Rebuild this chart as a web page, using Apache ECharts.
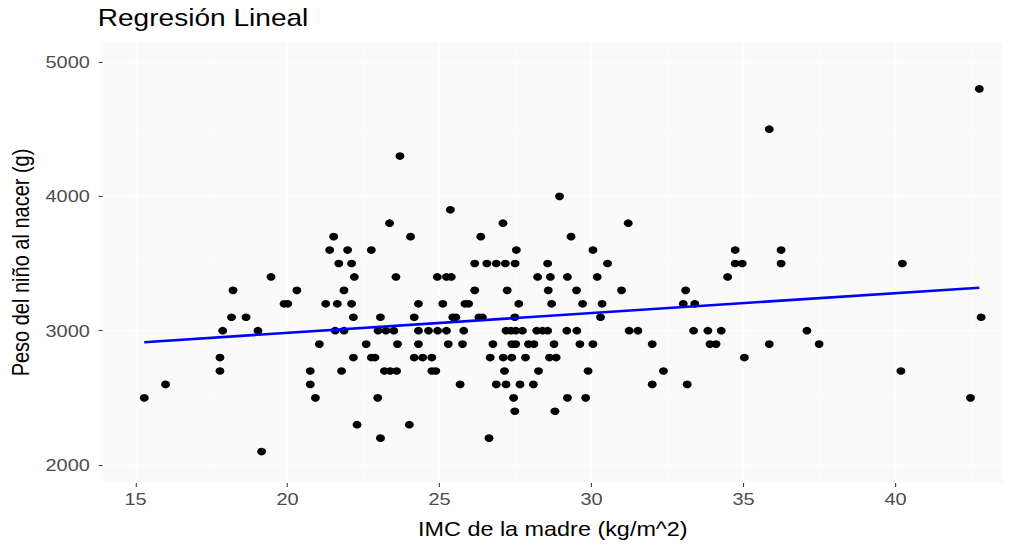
<!DOCTYPE html>
<html>
<head>
<meta charset="utf-8">
<title>Regresión Lineal</title>
<script src="https://cdn.jsdelivr.net/npm/echarts@6/dist/echarts.min.js"></script>
<style>
  html, body { margin: 0; padding: 0; background: #ffffff; overflow: hidden; }
  #wrap { width: 1017px; height: 546px; overflow: hidden; }
  /* the chart is laid out narrower and stretched horizontally */
  #chart { width: 869px; height: 546px; transform: scaleX(1.17); transform-origin: 0 0; }
</style>
</head>
<body>
<div id="wrap"><div id="chart"></div></div>
<script>
// IMC de la madre (kg/m^2) and peso del niño al nacer (g), one entry per birth
const bmi = [
  15.29, 15.99, 17.78, 17.78, 17.87, 18.16, 18.21, 18.64, 19.03, 19.15,
  19.46, 19.89, 20.01, 20.31, 20.75, 20.75, 20.92, 21.05, 21.26, 21.39,
  21.52, 21.57, 21.64, 21.69, 21.78, 21.86, 21.86, 21.98, 22.11, 22.11,
  22.17, 22.17, 22.20, 22.29, 22.59, 22.76, 22.76, 22.88, 22.97, 22.98,
  23.06, 23.06, 23.19, 23.24, 23.36, 23.38, 23.50, 23.57, 23.59, 23.62,
  23.70, 24.01, 24.05, 24.17, 24.17, 24.31, 24.31, 24.31, 24.45, 24.64,
  24.75, 24.75, 24.88, 24.93, 24.94, 25.11, 25.23, 25.23, 25.29, 25.39,
  25.36, 25.44, 25.54, 25.68, 25.76, 25.80, 25.84, 25.96, 26.16, 26.16,
  26.30, 26.36, 26.41, 26.56, 26.63, 26.67, 26.76, 26.87, 26.87, 27.09,
  27.10, 27.14, 27.17, 27.19, 27.19, 27.23, 27.35, 27.38, 27.38, 27.44,
  27.48, 27.48, 27.49, 27.51, 27.51, 27.53, 27.61, 27.65, 27.73, 27.83,
  27.93, 28.09, 28.11, 28.20, 28.23, 28.26, 28.39, 28.56, 28.56, 28.58,
  28.62, 28.65, 28.69, 28.77, 28.80, 28.84, 28.95, 29.19, 29.21, 29.21,
  29.33, 29.51, 29.52, 29.62, 29.71, 29.81, 29.89, 30.05, 30.05, 30.19,
  30.30, 30.35, 30.53, 30.99, 31.21, 31.24, 31.53, 32.00, 32.00, 32.37,
  33.02, 33.10, 33.15, 33.36, 33.40, 33.83, 33.90, 34.10, 34.27, 34.48,
  34.73, 34.73, 34.96, 35.03, 35.85, 35.85, 36.24, 36.24, 37.09, 37.49,
  40.18, 40.23, 42.47, 42.76, 42.82
];
const birthWeight = [
  2500, 2600, 2700, 2800, 3000, 3100, 3300, 3100, 3000, 2100,
  3400, 3200, 3200, 3300, 2700, 2600, 2500, 2900, 3200, 3600,
  3700, 3000, 3200, 3500, 2700, 3300, 3000, 3600, 3200, 3500,
  3100, 2800, 3400, 2300, 2900, 3600, 2800, 2800, 2500, 3000,
  3100, 2200, 2700, 3000, 3800, 2700, 3000, 3400, 2700, 2900,
  4300, 2300, 3700, 3100, 2800, 3200, 3000, 2900, 2800, 3000,
  2800, 2700, 2700, 3400, 3000, 3200, 3400, 3000, 2900, 3400,
  3900, 3100, 3100, 2600, 2900, 3000, 3200, 3200, 3500, 3300,
  3100, 3700, 3100, 3500, 2200, 2800, 2900, 3500, 2600, 3800,
  2800, 2700, 3500, 3000, 2600, 3300, 3000, 2900, 2800, 2500,
  3100, 2400, 3500, 3000, 2900, 3600, 3200, 2600, 3000, 2800,
  2900, 2600, 2900, 3000, 3400, 2700, 3000, 3000, 3500, 3300,
  2800, 3400, 3200, 2900, 2400, 2800, 4000, 3000, 3400, 2500,
  3700, 3300, 3000, 2900, 3200, 2500, 2700, 3600, 2900, 3400,
  3100, 3200, 3500, 3300, 3800, 3000, 3000, 2900, 2600, 2700,
  3200, 3300, 2600, 3000, 3200, 3000, 2900, 2900, 3000, 3400,
  3600, 3500, 3500, 2800, 4500, 2900, 3600, 3500, 3000, 2900,
  2700, 3500, 2500, 4800, 3100
];

// fitted line, drawn between its two ends
const fitX = [15.29, 42.76];
const fitY = [2914, 3320];

// axis breaks
const xTicks = [15, 20, 25, 30, 35, 40];
const xMinorTicks = [17.5, 22.5, 27.5, 32.5, 37.5, 42.5];
const yTicks = [2000, 3000, 4000, 5000];
const yMinorTicks = [2500, 3500, 4500];

const points = bmi.map((v, i) => [v, birthWeight[i]]);
const fitLine = fitX.map((v, i) => [v, fitY[i]]);

const FONT = '"Liberation Sans", Arial, Helvetica, sans-serif';
const X_MIN = 13.92, X_MAX = 43.54, Y_MIN = 1866, Y_MAX = 5149;

const chart = echarts.init(document.getElementById('chart'), null, { renderer: 'svg' });

const gridLine = { show: true, lineStyle: { color: '#ffffff', width: 1.2 } };
const minorGridLine = { show: true, lineStyle: { color: '#ffffff', width: 0.6 } };

chart.setOption({
  animation: false,
  backgroundColor: '#ffffff',
  textStyle: { fontFamily: FONT },
  title: {
    text: 'Regresión Lineal',
    left: 83.5,
    top: 6,
    padding: 0,
    textStyle: { fontFamily: FONT, fontSize: 24, fontWeight: 'normal', color: '#000000' }
  },
  grid: {
    left: 86.3, right: 11.7, top: 42, bottom: 63,
    show: true, backgroundColor: '#FAFAFA', borderWidth: 0
  },
  xAxis: [
    {
      type: 'value', min: X_MIN, max: X_MAX,
      name: 'IMC de la madre (kg/m^2)',
      nameLocation: 'middle', nameGap: 36,
      nameTextStyle: { fontFamily: FONT, fontSize: 20, color: '#000000' },
      axisLine: { show: false },
      axisTick: { show: true, length: 4, customValues: xTicks, lineStyle: { color: '#333333', width: 0.9 } },
      axisLabel: { customValues: xTicks, margin: 8, fontSize: 17, color: '#4D4D4D', fontFamily: FONT,
                   formatter: v => String(v) },
      splitLine: gridLine
    },
    {
      type: 'value', min: X_MIN, max: X_MAX, position: 'bottom',
      axisLine: { show: false },
      axisTick: { show: false, customValues: xMinorTicks },
      axisLabel: { show: false, customValues: xMinorTicks },
      splitLine: minorGridLine
    }
  ],
  yAxis: [
    {
      type: 'value', min: Y_MIN, max: Y_MAX,
      name: 'Peso del niño al nacer (g)',
      nameLocation: 'middle', nameGap: 59, nameRotate: 90,
      nameTextStyle: { fontFamily: FONT, fontSize: 20, color: '#000000' },
      axisLine: { show: false },
      axisTick: { show: true, length: 3.5, customValues: yTicks, lineStyle: { color: '#333333', width: 1 } },
      axisLabel: { customValues: yTicks, margin: 11, fontSize: 17, color: '#4D4D4D', fontFamily: FONT,
                   formatter: v => String(v) },
      splitLine: gridLine
    },
    {
      type: 'value', min: Y_MIN, max: Y_MAX, position: 'left',
      axisLine: { show: false },
      axisTick: { show: false, customValues: yMinorTicks },
      axisLabel: { show: false, customValues: yMinorTicks },
      splitLine: minorGridLine
    }
  ],
  series: [
    {
      type: 'scatter',
      xAxisIndex: 0, yAxisIndex: 0,
      data: points,
      symbol: 'circle',
      symbolSize: 7.6,
      itemStyle: { color: '#000000', opacity: 1 },
      z: 3
    },
    {
      type: 'line',
      xAxisIndex: 0, yAxisIndex: 0,
      data: fitLine,
      showSymbol: false,
      lineStyle: { color: '#0000FF', width: 2.6 },
      z: 4
    }
  ]
});
</script>
</body>
</html>
